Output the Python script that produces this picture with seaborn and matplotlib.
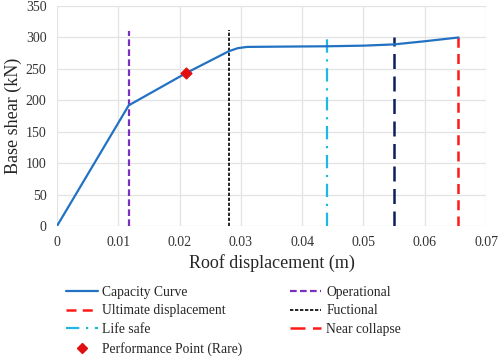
import pandas as pd
import seaborn as sns
import matplotlib.pyplot as plt
from matplotlib.lines import Line2D

# capacity curve (roof displacement in m, base shear in kN)
disp = [0, 0.0117, 0.021, 0.028, 0.0295, 0.031, 0.037, 0.044, 0.05, 0.055, 0.06, 0.0655]
shear = [0, 192, 243, 278, 283, 285, 285.5, 286, 287, 289, 294, 300]

# performance levels: name, displacement, line top
levels = ['Operational', 'Fuctional', 'Life safe', 'Near collapse', 'Ultimate displacement']
level_x = [0.0118, 0.028, 0.044, 0.055, 0.0655]
level_top = [310, 312, 302, 301, 305]

perf_x = [0.021]
perf_y = [243]

sns.set_style('whitegrid')
plt.rcParams['font.family'] = ['Liberation Serif', 'DejaVu Serif']

fig = plt.figure(figsize=(4.98, 3.57), dpi=100)
ax = fig.add_axes([0.1145, 0.367, 0.8615, 0.616])

df = pd.DataFrame({'disp': disp, 'shear': shear})
sns.lineplot(data=df, x='disp', y='shear', ax=ax, color='#2272C3', lw=1.6, zorder=3)

styles = {
    'Operational': dict(color='#7B2FBE', ls=(0, (3, 1.5)), lw=1.6),
    'Fuctional': dict(color='black', ls=(0, (2, 1)), lw=1.2),
    'Life safe': dict(color='#1FB8E6', ls=(0, (6, 3, 1, 3)), lw=1.6),
    'Near collapse': dict(color='#0D1F5C', ls=(0, (6, 3)), lw=1.8),
    'Ultimate displacement': dict(color='#FF1A1A', ls=(0, (4, 2.5)), lw=1.8),
}
for name, x, top in zip(levels, level_x, level_top):
    ax.vlines(x, 0, top, zorder=2, **styles[name])

ax.scatter(perf_x, perf_y, marker='D', s=30, color='#E01010', zorder=4)

ax.set_xlim(0, 0.07)
ax.set_ylim(0, 350)
ax.set_xticks([0, 0.01, 0.02, 0.03, 0.04, 0.05, 0.06, 0.07])
ax.set_xticklabels(['0', '0.01', '0.02', '0.03', '0.04', '0.05', '0.06', '0.07'])
ax.set_yticks(range(0, 351, 50))
ax.tick_params(labelsize=10, colors='#333333', pad=4)
ax.grid(color='#E3E3E3', lw=0.9)
for s in ax.spines.values():
    s.set_visible(False)
ax.set_xlabel('Roof displacement (m)', fontsize=13, labelpad=3)
ax.set_ylabel('Base shear (kN)', fontsize=13, labelpad=3)

handles = [
    Line2D([], [], color='#2272C3', lw=1.6),
    Line2D([], [], color='#FF1A1A', ls=(0, (4, 2.5)), lw=1.8),
    Line2D([], [], color='#1FB8E6', ls=(0, (6, 3, 1, 3)), lw=1.6),
    Line2D([], [], color='#E01010', marker='D', ls='none', markersize=5),
    Line2D([], [], color='#7B2FBE', ls=(0, (3, 1.5)), lw=1.6),
    Line2D([], [], color='black', ls=(0, (2, 1)), lw=1.2),
    Line2D([], [], color='#FF1A1A', ls=(0, (6, 3)), lw=1.8),
]
labels = ['Capacity Curve', 'Ultimate displacement', 'Life safe',
          'Performance Point (Rare)', 'Operational', 'Fuctional', 'Near collapse']
fig.legend(handles, labels, ncol=2, loc='upper left', bbox_to_anchor=(0.122, 0.215),
           frameon=False, fontsize=9.8, handlelength=2.3, handletextpad=0.35,
           columnspacing=3.5, labelspacing=0.42, borderaxespad=0)

fig.savefig('out.png', dpi=100)
